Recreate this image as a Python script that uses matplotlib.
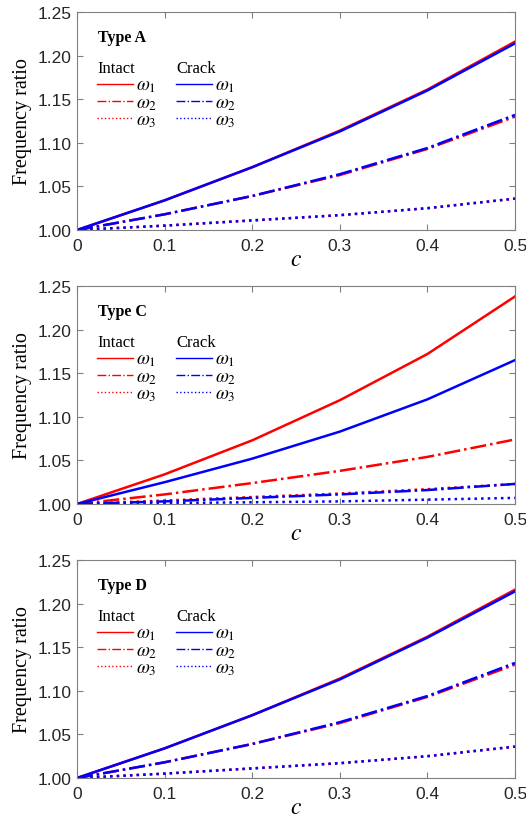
import matplotlib
matplotlib.use('Agg')
import matplotlib.pyplot as plt
import numpy as np

plt.rcParams['mathtext.fontset'] = 'stix'

c = [0, 0.1, 0.2, 0.3, 0.4, 0.5]

# Type A
a_int_w1 = [1.0, 1.034, 1.072, 1.114, 1.161, 1.216]
a_int_w2 = [1.0, 1.018, 1.039, 1.063, 1.093, 1.130]
a_int_w3 = [1.0, 1.005, 1.011, 1.017, 1.025, 1.036]
a_crk_w1 = [1.0, 1.034, 1.072, 1.113, 1.160, 1.214]
a_crk_w2 = [1.0, 1.018, 1.039, 1.064, 1.094, 1.132]
a_crk_w3 = [1.0, 1.005, 1.011, 1.017, 1.025, 1.036]

# Type C
c_int_w1 = [1.0, 1.034, 1.073, 1.119, 1.172, 1.238]
c_int_w2 = [1.0, 1.011, 1.024, 1.038, 1.054, 1.074]
c_int_w3 = [1.0, 1.004, 1.008, 1.012, 1.017, 1.023]
c_crk_w1 = [1.0, 1.025, 1.052, 1.083, 1.120, 1.165]
c_crk_w2 = [1.0, 1.003, 1.007, 1.011, 1.016, 1.023]
c_crk_w3 = [1.0, 1.001, 1.002, 1.003, 1.005, 1.007]

# Type D
d_int_w1 = [1.0, 1.034, 1.072, 1.114, 1.162, 1.216]
d_int_w2 = [1.0, 1.018, 1.039, 1.063, 1.093, 1.130]
d_int_w3 = [1.0, 1.005, 1.011, 1.017, 1.025, 1.036]
d_crk_w1 = [1.0, 1.034, 1.072, 1.113, 1.161, 1.214]
d_crk_w2 = [1.0, 1.018, 1.039, 1.064, 1.094, 1.132]
d_crk_w3 = [1.0, 1.005, 1.011, 1.017, 1.025, 1.036]

panels = [
    ('Type A', [a_int_w1, a_int_w2, a_int_w3], [a_crk_w1, a_crk_w2, a_crk_w3]),
    ('Type C', [c_int_w1, c_int_w2, c_int_w3], [c_crk_w1, c_crk_w2, c_crk_w3]),
    ('Type D', [d_int_w1, d_int_w2, d_int_w3], [d_crk_w1, d_crk_w2, d_crk_w3]),
]
yticks = [1.00, 1.05, 1.10, 1.15, 1.20, 1.25]
xticks = [0, 0.1, 0.2, 0.3, 0.4, 0.5]
xticklabels = ['0', '0.1', '0.2', '0.3', '0.4', '0.5']
styles = ['-', '-.', ':']
red = '#ff0000'
blue = '#0000ff'
serif = 'Liberation Serif'
sans = 'Liberation Sans'

omega_block = '\n'.join(r'$\omega_%d$' % k for k in (1, 2, 3))

fig = plt.figure(figsize=(5.26, 8.2), dpi=100)
tops = [13, 287, 561]
for i, (name, intact, crack) in enumerate(panels):
    top = tops[i]
    ax = fig.add_axes([77/526, 1 - (top + 218)/820, 438/526, 218/820])
    for s, y in zip(styles, intact):
        ax.plot(c, y, color=red, ls=s, lw=1.8)
    for s, y in zip(styles, crack):
        ax.plot(c, y, color=blue, ls=s, lw=1.8)
    ax.set_xlim(0, 0.5)
    ax.set_ylim(1.0, 1.25)
    ax.set_yticks(yticks)
    ax.set_yticklabels(['%.2f' % v for v in yticks], fontfamily=sans, fontsize=12.5)
    ax.set_xticks(xticks)
    ax.set_xticklabels(xticklabels, fontfamily=sans, fontsize=12.5)
    ax.tick_params(direction='in', top=True, right=True, length=4, color='#808080',
                   labelcolor='#262626')
    ax.tick_params(axis='x', pad=6)
    ax.tick_params(axis='y', pad=4)
    for sp in ax.spines.values():
        sp.set_color('#808080')
        sp.set_linewidth(0.8)
    ax.set_ylabel('Frequency ratio', fontfamily=serif, fontsize=14.5, labelpad=4)
    ax.set_xlabel('$c$', fontsize=17, labelpad=-5)

    # legend-like block
    tr = ax.transAxes
    ax.text(0.048, 0.885, name, transform=tr, fontfamily=serif, fontsize=11.5,
            fontweight='bold', va='center')
    ax.text(0.046, 0.745, 'Intact', transform=tr, fontfamily=serif, fontsize=12, va='center')
    ax.text(0.227, 0.745, 'Crack', transform=tr, fontfamily=serif, fontsize=12, va='center')
    rows = [0.672, 0.594, 0.516]
    for k in range(3):
        ax.plot([0.046, 0.127], [rows[k], rows[k]], transform=tr, color=red,
                ls=styles[k], lw=1.0)
        ax.plot([0.227, 0.308], [rows[k], rows[k]], transform=tr, color=blue,
                ls=styles[k], lw=1.0)
    ax.text(0.134, rows[1] - 0.008, omega_block, transform=tr, fontsize=13.5,
            va='center', linespacing=0.85)
    ax.text(0.316, rows[1] - 0.008, omega_block, transform=tr, fontsize=13.5,
            va='center', linespacing=0.85)

fig.savefig('out.png', dpi=100)
